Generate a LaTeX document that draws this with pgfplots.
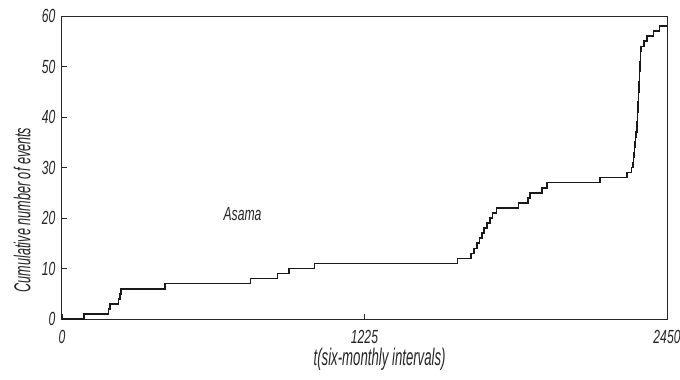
\documentclass[border=0pt]{standalone}
\usepackage{fontspec}
\setmainfont{Liberation Sans}[FakeStretch=0.64]
\newfontfamily\narrowfont{Liberation Sans}[FakeStretch=0.55]
\usepackage{pgfplots}
\pgfplotsset{compat=1.18}
\begin{document}
\begin{tikzpicture}
\useasboundingbox (-62pt,-61pt) rectangle (618pt,319pt);
\begin{axis}[
  at={(0pt,0pt)}, anchor=south west,
  scale only axis, width=605pt, height=303pt,
  xmin=0, xmax=2450, ymin=0, ymax=60,
  xtick={0,1225,2450}, ytick={0,10,...,60},
  tick align=inside, xtick pos=bottom, ytick pos=left,
  major tick length=5pt,
  axis line style={line width=1pt, black!85},
  tick style={line width=0.8pt, black!85},
  /pgf/number format/assume math mode=true,
  /pgf/number format/1000 sep={},
  ticklabel style={font=\itshape\fontsize{19}{19}\selectfont, text=black!85},
  xticklabel style={yshift=-8pt},
  yticklabel style={xshift=-3pt},
  clip=false,
]
\addplot[const plot, line width=1.6pt, black!90] coordinates {
(0,0) (90,1) (188,2) (195,3) (228,4) (235,5) (240,6) (417,7)
(764,8) (873,9) (919,10) (1023,11) (1601,12) (1657,13) (1668,14)
(1680,15) (1690,16) (1700,17) (1710,18) (1722,19) (1733,20) (1744,21)
(1760,22) (1848,23) (1888,24) (1894,25) (1943,26) (1963,27) (2179,28)
(2289,29) (2307,30) (2312,31) (2314,32) (2316,33) (2318,34) (2320,35)
(2323,36) (2325,37) (2328,38) (2329,39) (2330,40) (2331,41) (2332,42)
(2333,43) (2334,44) (2335,45) (2336,46) (2337,47) (2338,48) (2339,49)
(2340,50) (2341,51) (2342,52) (2343,53) (2345,54) (2358,55) (2370,56)
(2395,57) (2420,58) (2450,58)
};
\node[font=\itshape\fontsize{19}{19}\selectfont, text=black!85] at (axis cs:731,20.7) {Asama};
\node[font=\narrowfont\itshape\fontsize{24}{24}\selectfont, text=black!85, anchor=center, inner sep=0pt] at (axis description cs:0.525,-0.132) {t(six-monthly intervals)};
\node[font=\narrowfont\itshape\fontsize{23}{23}\selectfont, text=black!85, anchor=center, rotate=90, inner sep=0pt] at (axis description cs:-0.066,0.36) {Cumulative number of events};
\end{axis}
\end{tikzpicture}
\end{document}
